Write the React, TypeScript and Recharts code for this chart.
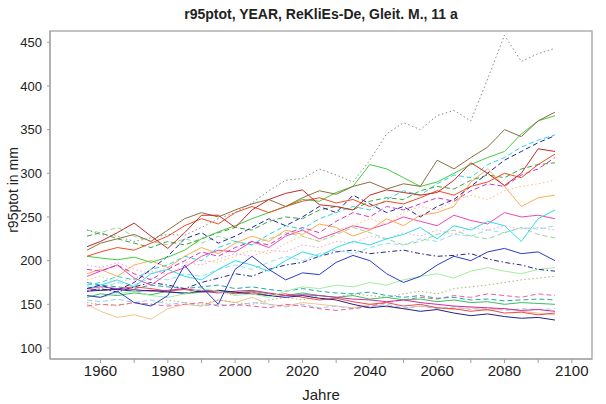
import React from "react";
import { LineChart, Line, XAxis, YAxis, ReferenceArea } from "recharts";

// Jahre (gleitendes Mittel, 11 a)
const years = [1956, 1960, 1965, 1970, 1975, 1980, 1985, 1990, 1995, 2000, 2005, 2010, 2015, 2020, 2025, 2030, 2035, 2040, 2045, 2050, 2055, 2060, 2065, 2070, 2075, 2080, 2085, 2090, 2095];

const s01 = [235, 230, 228, 222, 226, 230, 229, 238, 248, 255, 266, 280, 292, 294, 305, 298, 290, 315, 345, 358, 350, 366, 372, 360, 408, 458, 428, 437, 443];
const s02 = [216, 222, 232, 243, 228, 214, 232, 252, 252, 238, 258, 270, 277, 281, 264, 262, 258, 275, 281, 278, 275, 278, 292, 312, 300, 286, 300, 328, 325];
const s03 = [205, 210, 215, 212, 220, 228, 240, 248, 242, 255, 262, 255, 262, 268, 272, 266, 270, 262, 268, 265, 272, 280, 275, 285, 290, 300, 295, 310, 322];
const s04 = [212, 220, 225, 230, 222, 235, 248, 255, 250, 258, 265, 270, 262, 272, 280, 276, 285, 290, 282, 288, 285, 315, 305, 318, 330, 350, 342, 360, 370];
const s05 = [205, 203, 201, 204, 198, 204, 212, 225, 233, 240, 248, 255, 262, 270, 268, 278, 285, 310, 305, 295, 285, 290, 300, 310, 318, 325, 345, 360, 366];
const s06 = [168, 172, 166, 175, 190, 205, 225, 232, 220, 228, 238, 248, 240, 250, 262, 255, 275, 265, 255, 262, 250, 262, 270, 285, 300, 315, 325, 335, 343];
const s07 = [172, 175, 182, 178, 190, 195, 205, 200, 215, 222, 218, 230, 240, 236, 248, 255, 262, 258, 270, 280, 275, 288, 298, 295, 310, 318, 330, 338, 344];
const s08 = [190, 188, 195, 185, 178, 190, 200, 210, 205, 215, 222, 218, 230, 238, 232, 245, 255, 250, 262, 258, 265, 272, 268, 280, 288, 285, 298, 305, 318];
const s09 = [178, 182, 175, 180, 188, 185, 195, 200, 198, 205, 212, 208, 220, 228, 222, 235, 240, 248, 242, 255, 262, 258, 268, 275, 270, 280, 285, 288, 292];
const s10 = [185, 190, 182, 195, 200, 192, 205, 215, 208, 220, 228, 222, 235, 230, 242, 238, 228, 235, 248, 240, 252, 255, 262, 290, 305, 285, 262, 272, 275];
const s11 = [168, 172, 178, 170, 185, 190, 182, 178, 190, 200, 195, 188, 200, 210, 205, 215, 222, 218, 225, 230, 238, 225, 240, 235, 245, 240, 222, 248, 258];
const s12 = [182, 188, 195, 180, 172, 185, 192, 205, 212, 210, 222, 215, 228, 235, 225, 232, 240, 236, 242, 250, 245, 240, 252, 246, 242, 255, 250, 252, 248];
const s13 = [235, 232, 238, 228, 222, 218, 225, 220, 228, 222, 218, 225, 232, 228, 222, 230, 238, 232, 225, 218, 222, 230, 235, 228, 225, 232, 238, 230, 226];
const s14 = [160, 158, 165, 152, 148, 160, 195, 170, 150, 190, 205, 190, 178, 186, 184, 198, 206, 200, 185, 175, 182, 195, 205, 200, 210, 214, 208, 210, 200];
const s15 = [165, 168, 164, 170, 175, 172, 168, 175, 180, 185, 182, 190, 195, 198, 205, 210, 212, 208, 210, 212, 208, 205, 206, 208, 202, 198, 195, 190, 188];
const s16 = [152, 150, 148, 152, 150, 155, 152, 150, 155, 152, 150, 155, 158, 155, 160, 158, 162, 160, 158, 162, 165, 162, 168, 170, 172, 175, 178, 180, 182];
const s17 = [160, 158, 162, 165, 160, 158, 162, 168, 165, 160, 162, 158, 165, 170, 168, 172, 170, 175, 172, 178, 182, 185, 180, 188, 192, 188, 185, 190, 192];
const s18 = [165, 166, 167, 165, 166, 164, 163, 165, 166, 164, 162, 160, 158, 160, 157, 155, 150, 146, 148, 145, 142, 144, 140, 137, 139, 136, 134, 135, 132];
const s19 = [168, 170, 168, 167, 165, 166, 168, 165, 163, 165, 166, 163, 160, 161, 160, 158, 156, 155, 153, 155, 152, 150, 148, 147, 146, 145, 143, 144, 142];
const s20 = [168, 166, 168, 170, 168, 165, 167, 164, 165, 162, 164, 160, 162, 158, 155, 157, 153, 150, 152, 148, 150, 146, 145, 142, 144, 140, 141, 138, 140];
const s21 = [158, 162, 160, 163, 161, 165, 162, 164, 166, 163, 165, 162, 160, 163, 160, 158, 160, 156, 158, 155, 156, 153, 155, 152, 153, 150, 152, 151, 150];
const s22 = [175, 172, 170, 168, 172, 170, 168, 170, 172, 168, 170, 167, 165, 168, 165, 163, 162, 164, 160, 158, 160, 157, 158, 155, 156, 154, 155, 156, 155];
const s23 = [148, 150, 149, 152, 150, 148, 150, 152, 148, 150, 148, 146, 150, 148, 145, 143, 145, 148, 152, 155, 158, 156, 160, 158, 162, 160, 158, 162, 160];
const s24 = [150, 142, 135, 138, 133, 145, 150, 148, 155, 152, 158, 150, 148, 152, 150, 148, 146, 150, 147, 145, 148, 146, 144, 146, 143, 145, 142, 140, 138];
const s25 = [155, 153, 156, 152, 155, 150, 152, 148, 150, 148, 152, 150, 147, 150, 146, 148, 145, 147, 150, 146, 148, 145, 147, 144, 146, 143, 145, 144, 145];
const s26 = [170, 168, 175, 172, 180, 178, 185, 182, 190, 195, 190, 198, 205, 200, 208, 212, 208, 215, 220, 218, 225, 222, 230, 228, 235, 232, 238, 236, 240];
const s27 = [195, 192, 198, 190, 185, 192, 198, 195, 202, 208, 205, 212, 210, 218, 215, 222, 220, 228, 225, 232, 228, 235, 230, 238, 235, 240, 236, 238, 235];
const s28 = [228, 232, 225, 220, 215, 222, 218, 225, 232, 238, 235, 245, 250, 248, 258, 262, 258, 268, 272, 270, 280, 285, 282, 292, 298, 295, 305, 310, 312];

const yTicks = [100, 150, 200, 250, 300, 350, 400, 450];
const xTicks = [1960, 1970, 1980, 1990, 2000, 2010, 2020, 2030, 2040, 2050, 2060, 2070, 2080, 2090, 2100];

const DOT = "1.5 2.5";
const DASH = "5 3";
const DOTDASH = "1.5 2.5 5 2.5";

const series = [
  { key: "s24", values: s24, color: "#f2c48e", dash: undefined },
  { key: "s25", values: s25, color: "#9cc8f5", dash: DASH },
  { key: "s23", values: s23, color: "#f0609a", dash: DASH },
  { key: "s16", values: s16, color: "#b4b070", dash: DOT },
  { key: "s21", values: s21, color: "#38c060", dash: undefined },
  { key: "s22", values: s22, color: "#20a8a8", dash: DASH },
  { key: "s20", values: s20, color: "#f04848", dash: undefined },
  { key: "s19", values: s19, color: "#d02a9a", dash: undefined },
  { key: "s18", values: s18, color: "#22228c", dash: undefined },
  { key: "s17", values: s17, color: "#a4eca4", dash: undefined },
  { key: "s15", values: s15, color: "#28288a", dash: DOTDASH },
  { key: "s26", values: s26, color: "#88e4f0", dash: DASH },
  { key: "s27", values: s27, color: "#f6a0d4", dash: DOT },
  { key: "s13", values: s13, color: "#98d898", dash: DASH },
  { key: "s12", values: s12, color: "#ee48b0", dash: undefined },
  { key: "s11", values: s11, color: "#30dcec", dash: undefined },
  { key: "s10", values: s10, color: "#ffaa50", dash: undefined },
  { key: "s09", values: s09, color: "#ffbc78", dash: DOT },
  { key: "s08", values: s08, color: "#d038c0", dash: DASH },
  { key: "s07", values: s07, color: "#28d4e4", dash: DASH },
  { key: "s28", values: s28, color: "#38a838", dash: DASH },
  { key: "s14", values: s14, color: "#2a3cc8", dash: undefined },
  { key: "s06", values: s06, color: "#2424a4", dash: DASH },
  { key: "s05", values: s05, color: "#44cc44", dash: undefined },
  { key: "s04", values: s04, color: "#8c7040", dash: undefined },
  { key: "s03", values: s03, color: "#f04c20", dash: undefined },
  { key: "s02", values: s02, color: "#c42a2a", dash: undefined },
  { key: "s01", values: s01, color: "#8a8a8a", dash: DOT },
];

const rows = years.map((year, i) => {
  const row: Record<string, number> = { year };
  series.forEach((s) => {
    row[s.key] = s.values[i];
  });
  return row;
});

const FONT = '"Liberation Sans", Arial, Helvetica, sans-serif';

export default function App() {
  return (
    <div style={{ position: "absolute", left: 0, top: 0, width: 606, height: 404, background: "#fff", fontFamily: FONT }}>
      <div style={{ position: "absolute", left: 50, width: 542, top: 6, textAlign: "center", fontWeight: "bold", fontSize: 14, color: "#222" }}>
        r95ptot, YEAR, ReKliEs-De, Gleit. M., 11 a
      </div>
      <div
        style={{
          position: "absolute",
          left: 13,
          top: 190,
          transform: "translate(-50%, -50%) rotate(-90deg)",
          whiteSpace: "nowrap",
          fontSize: 14,
          color: "#222",
        }}
      >
        r95ptot in mm
      </div>
      <div style={{ position: "absolute", left: 50, width: 542, top: 386, textAlign: "center", fontSize: 15, color: "#222" }}>
        Jahre
      </div>
      <LineChart width={606} height={404} data={rows} margin={{ top: 31, right: 14, bottom: 0, left: 0 }}>
        <XAxis
          dataKey="year"
          type="number"
          domain={[1945, 2106]}
          ticks={xTicks}
          allowDataOverflow
          tickFormatter={(v: number) => (v % 20 === 0 ? String(v) : "")}
          height={45}
          tickSize={4}
          tickMargin={2}
          stroke="#a0a0a0"
          tick={{ fill: "#222", fontSize: 15, fontFamily: FONT }}
        />
        <YAxis
          type="number"
          domain={[87.4, 462.9]}
          ticks={yTicks}
          allowDataOverflow
          width={50}
          tickSize={3}
          tickMargin={5}
          stroke="#a0a0a0"
          tick={{ fill: "#222", fontSize: 13, fontFamily: FONT }}
        />
        <ReferenceArea x1={1945} x2={2106} y1={87.4} y2={462.9} fill="none" stroke="#b0b0b0" strokeWidth={1.5} ifOverflow="extendDomain" />
        {series.map((s) => (
          <Line
            key={s.key}
            dataKey={s.key}
            type="linear"
            stroke={s.color}
            strokeWidth={1}
            strokeDasharray={s.dash}
            dot={false}
            isAnimationActive={false}
          />
        ))}
      </LineChart>
    </div>
  );
}
